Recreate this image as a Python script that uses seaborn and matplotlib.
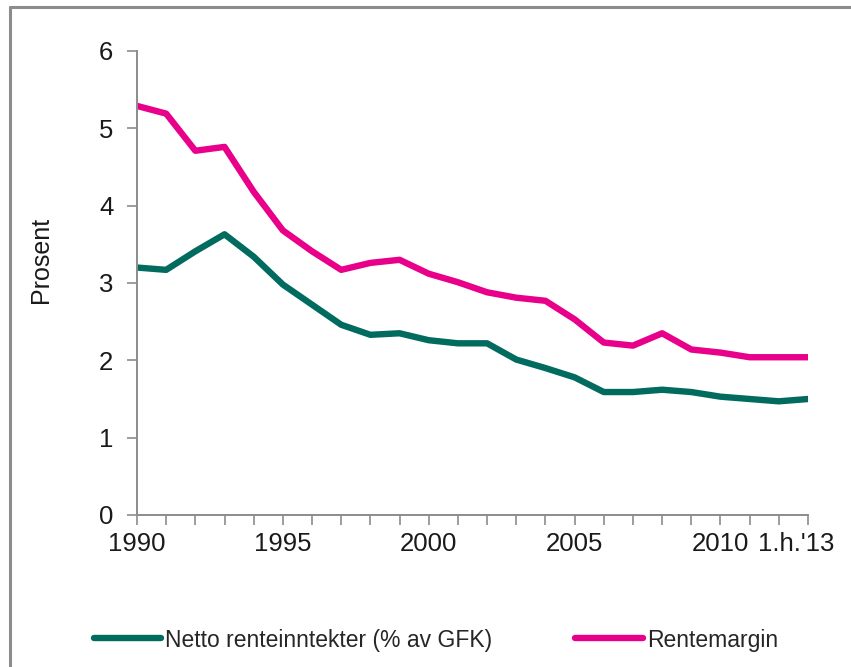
import matplotlib
matplotlib.use("Agg")
import matplotlib.pyplot as plt
import matplotlib.transforms as mtransforms
from matplotlib.lines import Line2D
import seaborn as sns
import pandas as pd

# Period labels: yearly values 1990-2012 plus first half of 2013
periods = [str(y) for y in range(1990, 2013)] + ["1.h.'13"]

netto_renteinntekter = [3.20, 3.17, 3.41, 3.63, 3.34, 2.98, 2.72, 2.46, 2.33, 2.35,
                        2.26, 2.22, 2.22, 2.01, 1.90, 1.78, 1.59, 1.59, 1.62, 1.59,
                        1.53, 1.50, 1.47, 1.50]
rentemargin = [5.29, 5.19, 4.71, 4.76, 4.18, 3.68, 3.41, 3.17, 3.26, 3.30,
               3.12, 3.01, 2.88, 2.81, 2.77, 2.53, 2.23, 2.19, 2.35, 2.14,
               2.10, 2.04, 2.04, 2.04]

series_names = ["Netto renteinntekter (% av GFK)", "Rentemargin"]
tick_positions = [0, 5, 10, 15, 20, 23]
tick_labels = ["1990", "1995", "2000", "2005", "2010", "1.h.'13"]

colors = {series_names[0]: "#006B5E", series_names[1]: "#E8008A"}

df = pd.DataFrame({
    "pos": list(range(len(periods))) * 2,
    "verdi": netto_renteinntekter + rentemargin,
    "serie": [series_names[0]] * len(periods) + [series_names[1]] * len(periods),
})

sns.set_theme(style="white")
plt.rcParams["font.family"] = ["Liberation Sans", "DejaVu Sans"]

fig = plt.figure(figsize=(8.51, 6.67), dpi=100)
ax = fig.add_axes([137 / 851, 1 - 515 / 667, (808 - 137) / 851, (515 - 51) / 667])

sns.lineplot(data=df, x="pos", y="verdi", hue="serie", palette=colors,
             linewidth=4.6, ax=ax, legend=False)

ax.set_xlim(0, len(periods) - 1)
ax.set_ylim(0, 6)
ax.set_yticks(range(0, 7))
ax.set_xticks(range(len(periods)), minor=True)
ax.set_xticks(tick_positions)
ax.set_xticklabels(tick_labels)
ax.set_xlabel("")
ax.set_ylabel("Prosent", fontsize=18, color="#1a1a1a")
ax.yaxis.set_label_coords(-0.125, 0.55)

grey = "#8c8c8c"
for side in ["top", "right"]:
    ax.spines[side].set_visible(False)
for side in ["left", "bottom"]:
    ax.spines[side].set_color(grey)
    ax.spines[side].set_linewidth(1.4)

ax.tick_params(axis="both", which="both", direction="out", color=grey, width=1.2,
               length=7, labelsize=18.5, labelcolor="#1a1a1a",
               bottom=True, left=True)
ax.tick_params(axis="y", pad=10)
ax.tick_params(axis="x", pad=5)

# The last period label sits slightly left of its tick
last = ax.get_xticklabels()[-1]
last.set_transform(last.get_transform() +
                   mtransforms.ScaledTranslation(-0.12, 0, fig.dpi_scale_trans))

handles = [Line2D([0], [0], color=colors[n], linewidth=4.6, solid_capstyle="round")
           for n in series_names]
fig.legend(handles, series_names, loc="center", bbox_to_anchor=(0.512, 1 - 640 / 667),
           ncol=2, frameon=False, fontsize=16.5, handlelength=2.95, handletextpad=0.18,
           columnspacing=3.6)

# Outer frame around the figure (top and left edges)
fig.add_artist(Line2D([10 / 851, 10 / 851], [0, 1 - 7 / 667], color=grey, linewidth=2.2,
                      transform=fig.transFigure))
fig.add_artist(Line2D([10 / 851, 1], [1 - 7 / 667, 1 - 7 / 667], color=grey, linewidth=2.2,
                      transform=fig.transFigure))

fig.savefig("out.png", dpi=100)
